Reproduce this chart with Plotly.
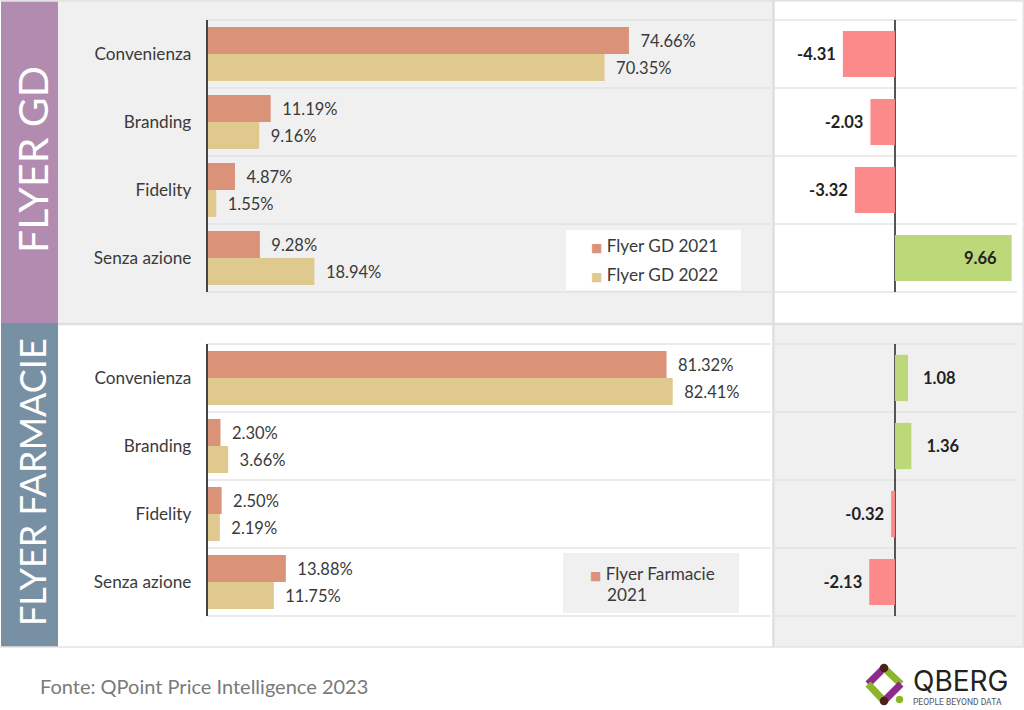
import plotly.graph_objects as go

categories = ["Convenienza", "Branding", "Fidelity", "Senza azione"]
gd_2021 = [74.66, 11.19, 4.87, 9.28]
gd_2022 = [70.35, 9.16, 1.55, 18.94]
gd_delta = [-4.31, -2.03, -3.32, 9.66]
farm_2021 = [81.32, 2.30, 2.50, 13.88]
farm_2022 = [82.41, 3.66, 2.19, 11.75]
farm_delta = [1.08, 1.36, -0.32, -2.13]

W, H = 1024, 710
C21, C22, RED, GREEN = "#da9379", "#dfc98f", "#fd8a8a", "#bcd878"
GRID, PANEL, TXT = "#e3e3e3", "#f0f0f0", "#3a3a3a"
FONT = "Lato, 'Open Sans', sans-serif"
NB = "\u00a0"

def px(x): return x / W
def py(y): return 1 - y / H

fig = go.Figure()

def add_share(v21, v22, ax):
    for vals, col, name in ((v21, C21, "2021"), (v22, C22, "2022")):
        fig.add_trace(go.Bar(
            y=categories, x=vals, orientation="h", name=name, marker=dict(color=col, line_width=0),
            texttemplate=NB * 2 + "%{x:.2f}%", textposition="outside", cliponaxis=False,
            constraintext="none", textfont=dict(family=FONT, size=16.5, color=TXT),
            xaxis="x" + ax, yaxis="y" + ax, showlegend=False, hoverinfo="x+y"))

def add_delta(vals, ax):
    texts, pos = [], []
    for v in vals:
        if v > 5:
            texts.append(f"{v:.2f}" + NB * 3); pos.append("inside")
        elif v > 0:
            texts.append(NB * 3 + f"{v:.2f}"); pos.append("outside")
        else:
            texts.append(f"{v:.2f}" + NB); pos.append("outside")
    fig.add_trace(go.Bar(
        y=categories, x=vals, orientation="h", width=0.68,
        marker=dict(color=[GREEN if v > 0 else RED for v in vals], line_width=0),
        text=texts, textposition=pos, insidetextanchor="end", cliponaxis=False,
        constraintext="none", textfont=dict(family=FONT, size=16.5, color="#222222", weight="bold"),
        xaxis="x" + ax, yaxis="y" + ax, showlegend=False, hoverinfo="x+y"))

add_share(gd_2021, gd_2022, "")
add_delta(gd_delta, "2")
add_share(farm_2021, farm_2022, "3")
add_delta(farm_delta, "4")

LEFT = [px(207.5), px(772)]
RIGHT = [px(775), px(1020)]
TOP = [py(292), py(20)]
BOT = [py(616), py(344)]
XL = dict(range=[0, 100], visible=False, fixedrange=True)
XR = dict(range=[-9.93, 10.35], showgrid=False, showticklabels=False, ticks="", showline=False,
          zeroline=True, zerolinecolor="#555555", zerolinewidth=1.5, fixedrange=True)
YL = dict(autorange=False, range=[3.5, -0.5], showgrid=False, showline=True, linecolor="#444444", linewidth=1.5,
          ticks="", ticklabelstandoff=11, tickfont=dict(family=FONT, size=17.2, color=TXT), fixedrange=True)
YR = dict(range=[3.5, -0.5], showgrid=False, showticklabels=False, ticks="", showline=False, fixedrange=True)

shapes = []
def rect(x0, y0, x1, y1, color):
    shapes.append(dict(type="rect", xref="paper", yref="paper", x0=px(x0), x1=px(x1), y0=py(y1), y1=py(y0),
                       fillcolor=color, line_width=0, layer="below"))
def hline(x0, x1, y, color=GRID, w=1.5):
    shapes.append(dict(type="line", xref="paper", yref="paper", x0=px(x0), x1=px(x1), y0=py(y), y1=py(y),
                       line=dict(color=color, width=w), layer="below"))
def vline(x, y0, y1, color=GRID, w=2):
    shapes.append(dict(type="line", xref="paper", yref="paper", x0=px(x), x1=px(x), y0=py(y0), y1=py(y1),
                       line=dict(color=color, width=w), layer="below"))

# panels
rect(58, 1, 773, 323, PANEL)
rect(775, 325, 1023, 647, PANEL)
rect(1, 1, 58, 323, "#b18bb0")
rect(1, 323, 58, 647, "#7890a4")
hline(0, 1024, 0.8, "#e3e3e3", 2)
hline(58, 1024, 324, "#e0e0e0", 2.5)
hline(0, 1024, 647, "#e3e3e3", 1.5)
vline(773.5, 0, 647, "#dedede", 2.5)
vline(1023.3, 0, 647, "#e3e3e3", 1.5)
# row separators
for top in (20, 344):
    for i in range(5):
        y = top + 68 * i
        hline(207, 771, y)
        hline(775, 1017, y)
# legend boxes
rect(566, 230, 741, 290, "#ffffff")
rect(563, 553, 739, 613, PANEL)

ann = []
def text(x, y, s, size, color=TXT, xanchor="left", angle=0, family=FONT, weight=None):
    f = dict(family=family, size=size, color=color)
    if weight: f["weight"] = weight
    ann.append(dict(xref="paper", yref="paper", x=px(x), y=py(y), text=s, showarrow=False, xanchor=xanchor,
                    yanchor="middle", align="left", textangle=angle, font=f))

text(32, 160, "FLYER GD", 41, "#ffffff", "center", -90)
text(32, 482, "FLYER FARMACIE", 36, "#ffffff", "center", -90)

def sw(c): return f'<span style="color:{c};font-size:12px;font-family:DejaVu Sans">■</span> '
text(589, 245, sw(C21) + "Flyer GD 2021", 17.2)
text(589, 275, sw(C22) + "Flyer GD 2022", 17.2)
text(588, 573, sw(C21) + "Flyer Farmacie", 17.2)
text(605, 594, "2021", 17.2)
text(38, 686, "Fonte: QPoint Price Intelligence 2023", 20, "#7a7a7a")

# logo
DARK, PUR, GRN = "#4a2018", "#8e2a8b", "#8db52a"
T, L, B, R = (884, 668), (868, 684), (884, 701), (901, 684)
for a, b, c in ((T, L, PUR), (T, R, GRN), (L, B, GRN), (R, B, PUR)):
    shapes.append(dict(type="line", xref="paper", yref="paper", x0=px(a[0]), y0=py(a[1]), x1=px(b[0]), y1=py(b[1]),
                       line=dict(color=c, width=7)))
def dot(x, y, r, c):
    shapes.append(dict(type="circle", xref="paper", yref="paper", x0=px(x - r), x1=px(x + r), y0=py(y + r), y1=py(y - r),
                       fillcolor=c, line_width=0))
dot(884, 668, 4.3, DARK); dot(884, 701, 4.3, DARK); dot(899.5, 699.5, 3.7, GRN)
text(911, 681, "QBERG", 28, "#222222", family="Inter, sans-serif")
text(911, 701.5, "PEOPLE BEYOND DATA", 8.5, "#555555", family="Roboto, sans-serif")

fig.update_layout(
    width=W, height=H, margin=dict(l=0, r=0, t=0, b=0), paper_bgcolor="white", plot_bgcolor="rgba(0,0,0,0)",
    barmode="group", bargap=0.206, bargroupgap=0, showlegend=False,
    shapes=shapes, annotations=ann,
    xaxis=dict(domain=LEFT, anchor="y", **XL), yaxis=dict(domain=TOP, anchor="x", **YL),
    xaxis2=dict(domain=RIGHT, anchor="y2", **XR), yaxis2=dict(domain=TOP, anchor="x2", **YR),
    xaxis3=dict(domain=LEFT, anchor="y3", **XL), yaxis3=dict(domain=BOT, anchor="x3", **YL),
    xaxis4=dict(domain=RIGHT, anchor="y4", **XR), yaxis4=dict(domain=BOT, anchor="x4", **YR),
)
fig.write_html("out.html", config=dict(displayModeBar=False),
               post_script="document.body.style.margin='0';document.body.style.overflow='hidden';")
